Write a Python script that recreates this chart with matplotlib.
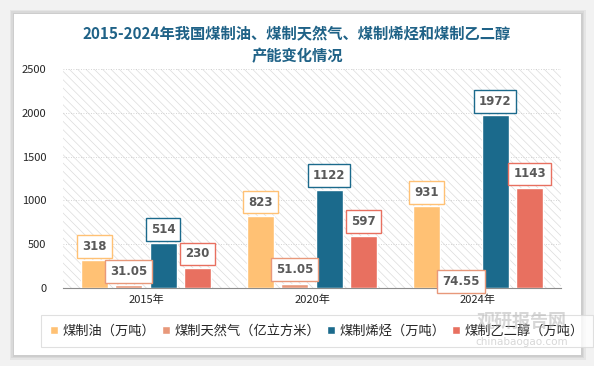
import matplotlib
matplotlib.use("Agg")
import matplotlib.pyplot as plt
from matplotlib.patches import Rectangle
import numpy as np

plt.rcParams['font.family'] = ['Noto Sans CJK SC', 'DejaVu Sans']
plt.rcParams['hatch.linewidth'] = 0.5
plt.rcParams['hatch.color'] = '#dcdcdc'

years = ['2015年', '2020年', '2024年']
series_names = ['煤制油（万吨）', '煤制天然气（亿立方米）', '煤制烯烃（万吨）', '煤制乙二醇（万吨）']
oil = [318, 823, 931]
gas = [31.05, 51.05, 74.55]
olefin = [514, 1122, 1972]
glycol = [230, 597, 1143]
label_texts = [['318', '823', '931'],
               ['31.05', '51.05', '74.55'],
               ['514', '1122', '1972'],
               ['230', '597', '1143']]
colors = ['#FFC174', '#E8987A', '#1B6A8C', '#E87060']

W, H = 594, 366
fig = plt.figure(figsize=(W / 100, H / 100), dpi=100)
fig.patch.set_facecolor('#f2f2f2')

# card with shadow
for i in range(3):
    d = (3 - i) * 1.5
    fig.patches.append(Rectangle(((14 - d) / W, (366 - 355 - d) / H), (567 + 2 * d) / W, (341 + 2 * d) / H,
                                 transform=fig.transFigure, facecolor='#000000', alpha=0.05,
                                 edgecolor='none', zorder=-3))
fig.patches.append(Rectangle((14 / W, (366 - 355) / H), 567 / W, 341 / H,
                             transform=fig.transFigure, facecolor='white', edgecolor='none', zorder=-2))

ax = fig.add_axes([63 / W, (366 - 288) / H, (561 - 63) / W, (288 - 69) / H])
ax.set_zorder(2)
ax.set_facecolor('none')
ax.add_patch(Rectangle((0, 0), 1, 1, transform=ax.transAxes, facecolor='white',
                       hatch='\\\\\\\\', edgecolor='#dcdcdc', linewidth=0, zorder=0))

x = np.arange(len(years))
width = 0.162
step = 0.207
offsets = [-1.5 * step, -0.5 * step, 0.5 * step, 1.5 * step]
data = [oil, gas, olefin, glycol]
for k, (vals, c, off, name) in enumerate(zip(data, colors, offsets, series_names)):
    ax.bar(x + off, vals, width, color=c, edgecolor='white', linewidth=1.0,
           label=name, zorder=3)
    for j, (xi, v) in enumerate(zip(x + off, vals)):
        dy = 10
        if k == 1 and j == 2:
            dy = 0
        ax.annotate(label_texts[k][j], (xi, v), xytext=(0, dy), textcoords='offset points',
                    ha='center', va='center', fontsize=8.5, fontweight='bold', color='#595959',
                    family='DejaVu Sans', zorder=5,
                    bbox=dict(boxstyle='square,pad=0.42', facecolor='white', edgecolor=c, linewidth=1.0))

ax.set_xlim(-0.5, 2.5)
ax.set_ylim(0, 2500)
ax.set_yticks(range(0, 2501, 500))
ax.yaxis.grid(True, linestyle=(0, (1, 2)), color='#c8c8c8', linewidth=0.6, zorder=1)
ax.set_axisbelow(True)
ax.set_xticks(x)
ax.set_xticklabels(years)
for s in ['top', 'right', 'left']:
    ax.spines[s].set_visible(False)
ax.spines['bottom'].set_color('#8c8c8c')
ax.tick_params(axis='y', length=0, labelsize=8, colors='#262626', pad=12)
ax.tick_params(axis='x', length=0, labelsize=8, colors='#262626', pad=5)

fig.text(297 / W, 1 - 33 / H, '2015-2024年我国煤制油、煤制天然气、煤制烯烃和煤制乙二醇',
         ha='center', va='center', fontsize=11, fontweight='bold', color='#1F6287')
fig.text(297 / W, 1 - 56 / H, '产能变化情况',
         ha='center', va='center', fontsize=11, fontweight='bold', color='#1F6287')

leg = fig.legend(loc='center left', bbox_to_anchor=(34 / W, 1 - 331 / H), ncol=4,
                 frameon=True, fancybox=False, edgecolor='#d9d9d9', fontsize=9.5,
                 handlelength=0.6, handleheight=0.6, handletextpad=0.35, columnspacing=0.5,
                 borderpad=0.7, labelcolor='#262626')
leg.get_frame().set_linewidth(0.8)
leg.set_zorder(3)

# watermark
fig.text(522 / W, 1 - 321 / H, '观研报告网', ha='center', va='center', fontsize=13,
         fontweight='bold', color='#b0b0b0', alpha=0.5, zorder=10)
fig.text(522 / W, 1 - 342 / H, 'chinabaogao.com', ha='center', va='center', fontsize=7.5,
         color='#b0b0b0', alpha=0.5, zorder=10, family='DejaVu Sans')

fig.savefig('out.png', dpi=100, facecolor=fig.get_facecolor())
